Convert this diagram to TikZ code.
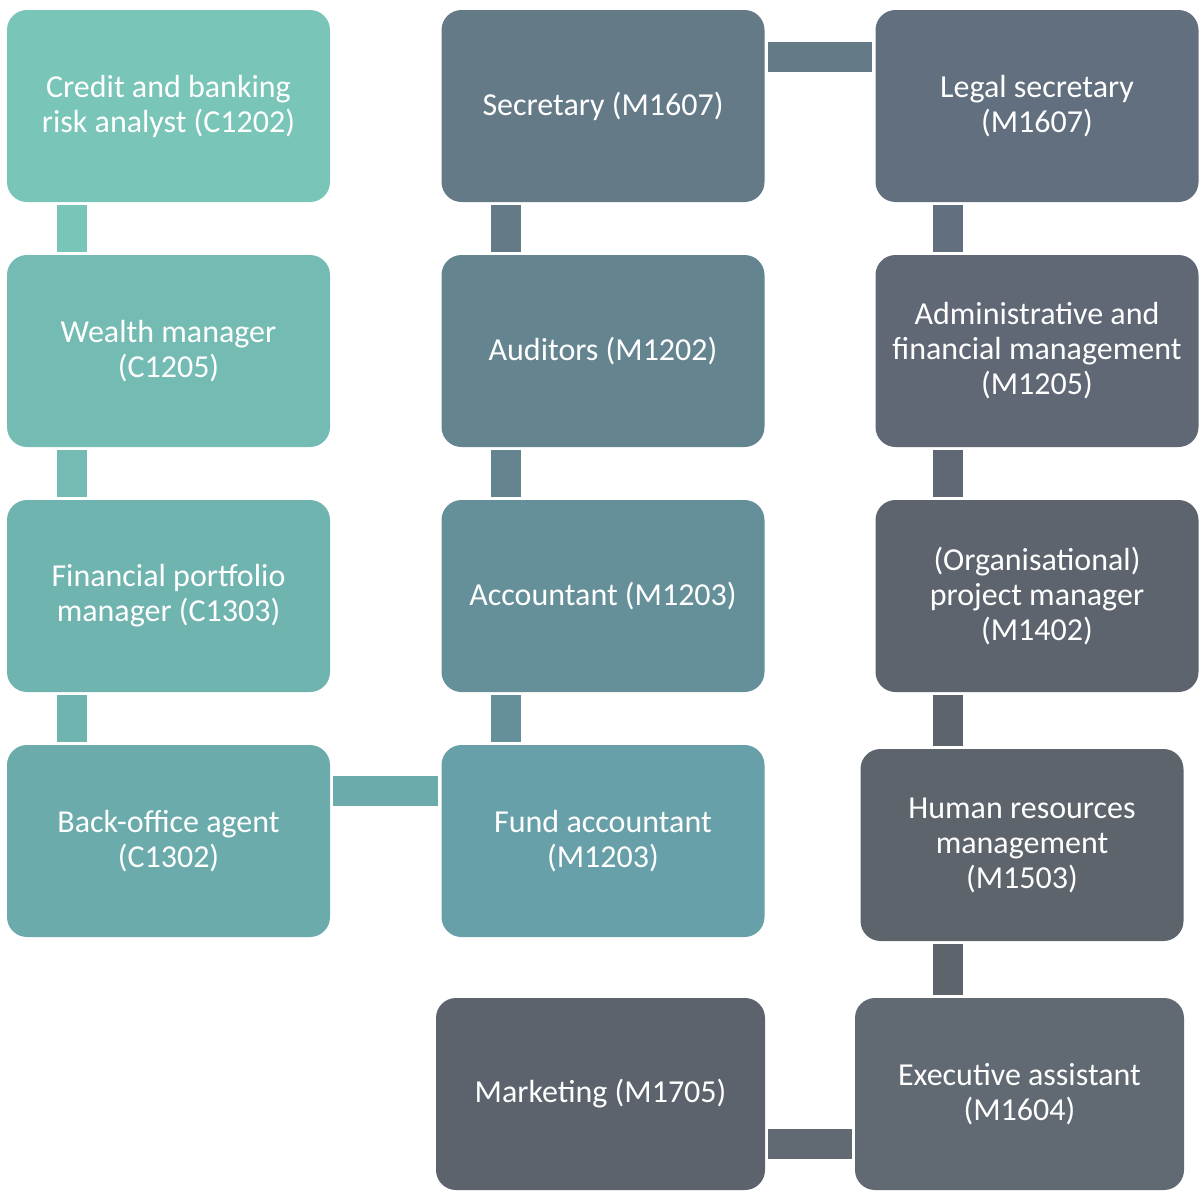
\documentclass[tikz,border=0pt]{standalone}
\usepackage{fontspec}
\setmainfont{Carlito}
\usetikzlibrary{positioning}
\definecolor{tealA}{RGB}{121,197,184}
\definecolor{tealB}{RGB}{116,188,179}
\definecolor{tealC}{RGB}{112,180,176}
\definecolor{tealD}{RGB}{107,171,172}
\definecolor{blueA}{RGB}{100,122,135}
\definecolor{blueB}{RGB}{100,133,143}
\definecolor{blueC}{RGB}{101,143,153}
\definecolor{blueD}{RGB}{104,160,169}
\definecolor{slateA}{RGB}{98,111,126}
\definecolor{slateB}{RGB}{95,104,116}
\definecolor{slateC}{RGB}{93,100,109}
\definecolor{slateD}{RGB}{94,100,108}
\definecolor{slateE}{RGB}{97,105,115}
\definecolor{slateF}{RGB}{92,99,108}

\begin{document}
\begin{tikzpicture}[x=1pt,y=-1pt,
  job/.style={rounded corners=20pt,minimum width=323pt,minimum height=192pt,inner sep=0pt,
    text=white,align=center,font=\fontsize{32}{35}\selectfont},
  link/.style={line width=30pt,shorten <=3pt,shorten >=3pt}]
  \useasboundingbox (0,0) rectangle (1199,1191);
  % banking column
  \node[job,fill=tealA] (credit) at (168.5,106) {Credit and banking\\risk analyst (C1202)};
  \node[job,fill=tealB] (wealth) at (168.5,351) {Wealth manager\\(C1205)};
  \node[job,fill=tealC] (portfolio) at (168.5,596) {Financial portfolio\\manager (C1303)};
  \node[job,fill=tealD] (backoffice) at (168.5,841) {Back-office agent\\(C1302)};
  % accounting column
  \node[job,fill=blueA] (secretary) at (603,106) {Secretary (M1607)};
  \node[job,fill=blueB] (auditors) at (603,351) {Auditors (M1202)};
  \node[job,fill=blueC] (accountant) at (603,596) {Accountant (M1203)};
  \node[job,fill=blueD] (fund) at (603,841) {Fund accountant\\(M1203)};
  \node[job,fill=slateF,minimum width=329pt] (marketing) at (600.5,1094) {Marketing (M1705)};
  % management column
  \node[job,fill=slateA] (legal) at (1037,106) {Legal secretary\\(M1607)};
  \node[job,fill=slateB] (admin) at (1037,351) {Administrative and\\financial management\\(M1205)};
  \node[job,fill=slateC] (project) at (1037,596) {(Organisational)\\project manager\\(M1402)};
  \node[job,fill=slateD] (hr) at (1022,845) {Human resources\\management\\(M1503)};
  \node[job,fill=slateE,minimum width=329pt] (executive) at (1019.5,1094) {Executive assistant\\(M1604)};

  \draw[link,tealA] ([xshift=-96.5pt]credit.south) -- ([xshift=-96.5pt]wealth.north);
  \draw[link,tealB] ([xshift=-96.5pt]wealth.south) -- ([xshift=-96.5pt]portfolio.north);
  \draw[link,tealC] ([xshift=-96.5pt]portfolio.south) -- ([xshift=-96.5pt]backoffice.north);
  \draw[link,tealD] ([yshift=50pt]backoffice.east) -- ([yshift=50pt]fund.west);

  \draw[link,blueA] ([xshift=-97pt]secretary.south) -- ([xshift=-97pt]auditors.north);
  \draw[link,blueB] ([xshift=-97pt]auditors.south) -- ([xshift=-97pt]accountant.north);
  \draw[link,blueC] ([xshift=-97pt]accountant.south) -- ([xshift=-97pt]fund.north);
  \draw[link,blueA] ([yshift=49pt]secretary.east) -- ([yshift=49pt]legal.west);

  \draw[link,slateA] ([xshift=-89pt]legal.south) -- ([xshift=-89pt]admin.north);
  \draw[link,slateB] ([xshift=-89pt]admin.south) -- ([xshift=-89pt]project.north);
  \draw[link,slateC] ([xshift=-89pt]project.south) -- ([xshift=-89pt]project.south |- hr.north);
  \draw[link,slateD] ([xshift=-74pt]hr.south) -- ([xshift=-74pt]hr.south |- executive.north);
  \draw[link,slateE] ([yshift=-50pt]marketing.east) -- ([yshift=-50pt]executive.west);
\end{tikzpicture}
\end{document}
